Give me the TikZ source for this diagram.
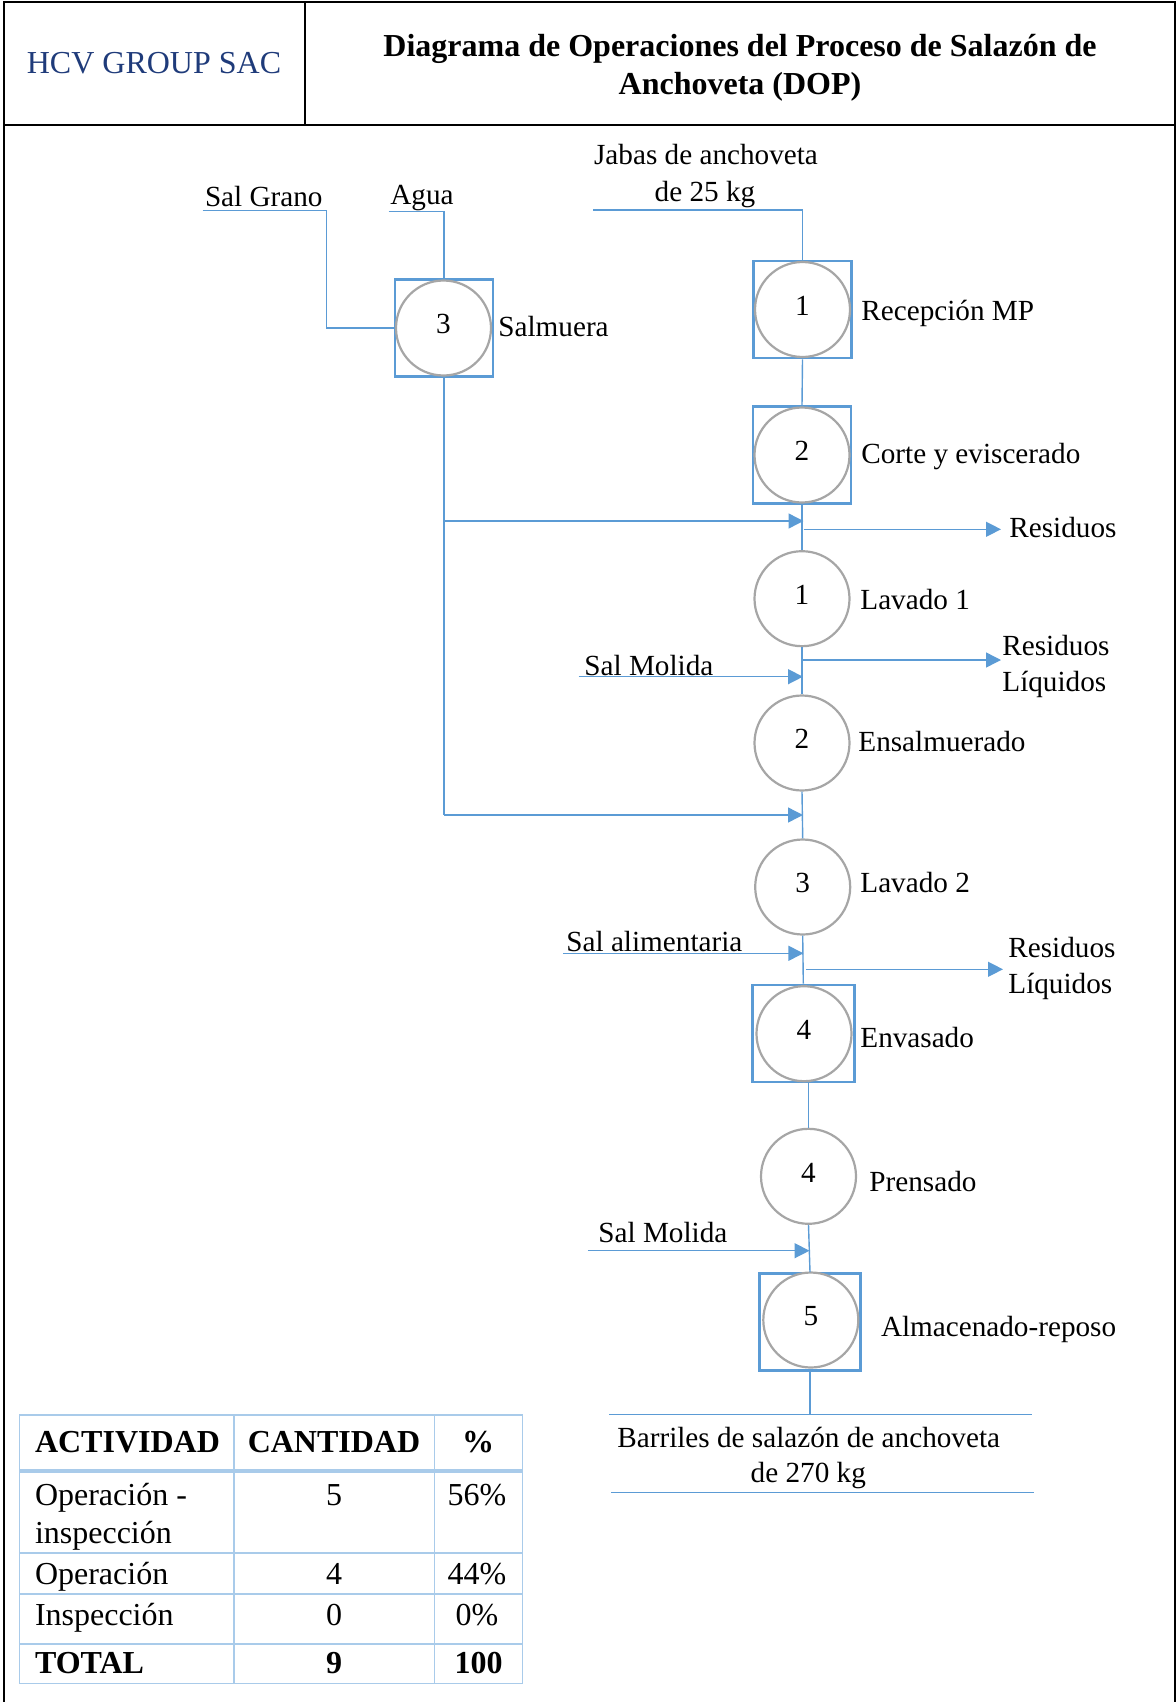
\documentclass[tikz,border=0pt]{standalone}
\usepackage{fontspec}
\setmainfont{Liberation Serif}
\usetikzlibrary{arrows.meta}
\definecolor{flowblue}{HTML}{5B9BD5}
\definecolor{ringgrey}{HTML}{A6A6A6}
\definecolor{tabblue}{HTML}{A9CBEA}
\definecolor{hcvnavy}{HTML}{1F3B7A}
\begin{document}
\begin{tikzpicture}[x=0.5pt,y=-0.5pt,
  lbl/.style={inner sep=0pt, font=\fontsize{14.6}{18}\selectfont, text height=9.6pt, text depth=0pt},
  tlbl/.style={inner sep=0pt, font=\fontsize{16}{19}\selectfont, text height=10.6pt, text depth=0pt},
  tbold/.style={tlbl, font=\fontsize{16}{19}\selectfont\bfseries},
  opbox/.style={draw=flowblue, line width=1.4pt, minimum width=49pt, minimum height=48.5pt, inner sep=0pt},
  opring/.style={circle, draw=ringgrey, line width=1.1pt, minimum size=47.5pt, inner sep=0pt, fill=white,
    font=\fontsize{14.6}{18}\selectfont, text height=9.9pt, text depth=4pt},
  flow/.style={draw=flowblue, line width=0.7pt},
  feed/.style={flow, -{Triangle[length=7.5pt,width=7.5pt]}},
  frameline/.style={draw=black, line width=1pt},
  tabline/.style={draw=tabblue, line width=0.8pt},
]
\useasboundingbox (0,0) rectangle (1176,1702);

% ---- outer frame and heading ----
\draw[frameline] (4,1702) -- (4,2) -- (1174.5,2) -- (1174.5,1702);
\draw[frameline] (4,125.5) -- (1174.5,125.5);
\draw[frameline] (304.5,2) -- (304.5,125.5);
\node[tlbl, text=hcvnavy] (company) at (154,63) {HCV GROUP SAC};
\node[tbold] (titleA) at (740,46) {Diagrama de Operaciones del Proceso de Salazón de};
\node[tbold] (titleB) at (740,84) {Anchoveta (DOP)};

% ---- brine preparation ----
\node[opbox] (salmBox) at (444,328) {};
\node[opring] (salmRing) at (443.5,328) {3};
\node[lbl, anchor=west] (salmLbl) at (498,326.7) {Salmuera};
\node[lbl, anchor=west] (sgLbl) at (204.6,196.7) {Sal Grano};
\node[lbl, anchor=west] (agLbl) at (390,195) {Agua};
\coordinate (sgIn) at (202.5,210.7);
\coordinate (sgBend) at (326.5,210.7);
\coordinate (agIn) at (388.5,211.3);
\draw[flow] (sgIn) -- (sgBend) |- (salmBox.west);
\draw[flow] (agIn) -| (salmBox.north);

% ---- main line of operations ----
\node[lbl] (jabA) at (706,155) {Jabas de anchoveta};
\node[lbl] (jabB) at (705,191.7) {de 25 kg};
\coordinate (jabIn) at (593,210);

\node[opbox] (recBox) at (802.5,309.5) {};
\node[opring] (recRing) at (802.5,309.5) {1};
\node[lbl, anchor=west] (recLbl) at (861,310.6) {Recepción MP};

\node[opbox] (corteBox) at (802,455) {};
\node[opring] (corteRing) at (802,455) {2};
\node[lbl, anchor=west] (corteLbl) at (861,453.9) {Corte y eviscerado};

\node[opring] (lav1) at (802,598.7) {1};
\node[lbl, anchor=west] (lav1Lbl) at (860,600) {Lavado 1};

\node[opring] (ensal) at (802,743) {2};
\node[lbl, anchor=west] (ensalLbl) at (858,741.7) {Ensalmuerado};

\node[opring] (lav2) at (802.7,887) {3};
\node[lbl, anchor=west] (lav2Lbl) at (860,883) {Lavado 2};

\node[opbox, minimum width=51pt] (envBox) at (803.3,1033.4) {};
\node[opring] (envRing) at (804,1033.7) {4};
\node[lbl, anchor=west] (envLbl) at (860,1038.3) {Envasado};

\node[opring] (prens) at (808.5,1176.3) {4};
\node[lbl, anchor=west] (prensLbl) at (869,1181.7) {Prensado};

\node[opbox, minimum width=50.5pt] (almBox) at (810,1322) {};
\node[opring] (almRing) at (810.8,1320) {5};
\node[lbl, anchor=west] (almLbl) at (880.6,1326.7) {Almacenado-reposo};

\draw[flow] (jabIn) -| (recBox.north);
\draw[flow] (recBox.south) -- (corteBox.north);
\draw[flow] (corteBox.south) -- (lav1.north);
\draw[flow] (lav1.south) -- (ensal.north);
\draw[flow] (ensal.south) -- (lav2.north);
\draw[flow] (lav2.south) -- (envBox.north);
\draw[flow] (prens.north |- envBox.south) -- (prens.north);
\draw[flow] (prens.south) -- (almBox.north);

% ---- brine feed into the line ----
\coordinate (mixA) at (803.5,521);
\coordinate (mixB) at (803,815);
\draw[flow] (salmBox.south) -- (salmBox.south |- mixB);
\draw[feed] (salmBox.south |- mixA) -- (mixA);
\draw[feed] (salmBox.south |- mixB) -- (mixB);

% ---- waste outlets ----
\coordinate (resAa) at (803.5,529.3);
\coordinate (resAb) at (1001,529.3);
\draw[feed] (resAa) -- (resAb);
\node[lbl, anchor=west] (resALbl) at (1009,528) {Residuos};

\coordinate (resBa) at (803,660);
\coordinate (resBb) at (1001,660);
\draw[feed] (resBa) -- (resBb);
\node[lbl, anchor=west] (resBLbl) at (1002,645.7) {Residuos};
\node[lbl, anchor=west] (resBLbl2) at (1002,681.7) {Líquidos};

\coordinate (resCa) at (806.4,969.3);
\coordinate (resCb) at (1003,969.3);
\draw[feed] (resCa) -- (resCb);
\node[lbl, anchor=west] (resCLbl) at (1008,948.3) {Residuos};
\node[lbl, anchor=west] (resCLbl2) at (1008,984) {Líquidos};

% ---- salt inputs ----
\coordinate (molAa) at (578.6,676.7);
\coordinate (molAb) at (803,676.7);
\draw[feed] (molAa) -- (molAb);
\node[lbl, anchor=west] (molALbl) at (584,665.7) {Sal Molida};

\coordinate (alimA) at (563,953.3);
\coordinate (alimB) at (803.4,953.3);
\draw[feed] (alimA) -- (alimB);
\node[lbl, anchor=west] (alimLbl) at (566,942.3) {Sal alimentaria};

\coordinate (molBa) at (587.8,1250.7);
\coordinate (molBb) at (809.5,1250.7);
\draw[feed] (molBa) -- (molBb);
\node[lbl, anchor=west] (molBLbl) at (598,1233.3) {Sal Molida};

% ---- final product ----
\coordinate (barL) at (609,1414.3);
\coordinate (barR) at (1032,1414.3);
\coordinate (barL2) at (611,1492.7);
\coordinate (barR2) at (1034,1492.7);
\draw[flow] (almBox.south) -- (almBox.south |- barL);
\draw[flow] (barL) -- (barR);
\draw[flow] (barL2) -- (barR2);
\node[lbl] (barA) at (808.7,1437.7) {Barriles de salazón de anchoveta};
\node[lbl] (barB) at (808.3,1473.3) {de 270 kg};

% ---- summary table ----
\draw[tabline] (19.6,1415) rectangle (522.5,1683.3);
\draw[tabline] (234,1415) -- (234,1683.3);
\draw[tabline] (434.6,1415) -- (434.6,1683.3);
\draw[tabline] (19.6,1552.7) -- (522.5,1552.7);
\draw[tabline] (19.6,1594) -- (522.5,1594);
\draw[tabline] (19.6,1644) -- (522.5,1644);
\draw[tabline, line width=1.6pt] (19.6,1471) -- (522.5,1471);

\node[tbold, anchor=west] (hAct) at (34.6,1442.3) {ACTIVIDAD};
\node[tbold] (hCant) at (334,1442.3) {CANTIDAD};
\node[tbold] (hPct) at (478,1442.3) {\%};

\node[tlbl, anchor=west] (r1a) at (34.6,1495) {Operación -};
\node[tlbl, anchor=west] (r1b) at (34.6,1533.3) {inspección};
\node[tlbl] (r1n) at (334,1495) {5};
\node[tlbl] (r1p) at (477,1495) {56\%};

\node[tlbl, anchor=west] (r2a) at (34.6,1574.3) {Operación};
\node[tlbl] (r2n) at (334,1574.3) {4};
\node[tlbl] (r2p) at (477,1574.3) {44\%};

\node[tlbl, anchor=west] (r3a) at (34.6,1615) {Inspección};
\node[tlbl] (r3n) at (334,1615) {0};
\node[tlbl] (r3p) at (477,1615) {0\%};

\node[tbold, anchor=west] (r4a) at (34.6,1663.3) {TOTAL};
\node[tbold] (r4n) at (334,1663.3) {9};
\node[tbold] (r4p) at (478.5,1663.3) {100};
\end{tikzpicture}
\end{document}
